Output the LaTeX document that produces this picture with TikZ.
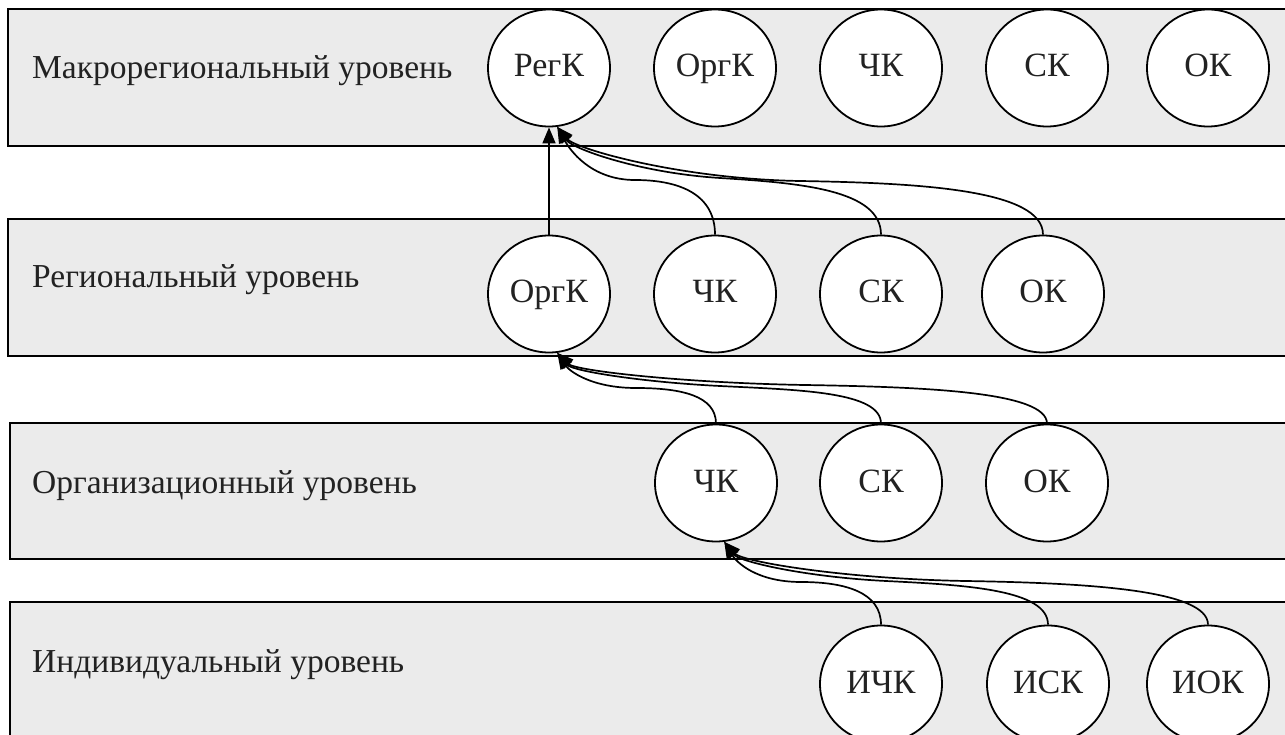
\documentclass[tikz,border=0pt]{standalone}
\usepackage{fontspec}
\setmainfont{Liberation Serif}
\usetikzlibrary{arrows.meta,shapes.geometric}
\definecolor{levelfill}{HTML}{EBEBEB}
\definecolor{ink}{HTML}{222222}
\begin{document}
\begin{tikzpicture}[x=1pt,y=-1pt,
  level/.style={draw=black,line width=2pt,fill=levelfill},
  lvltext/.style={anchor=base west,text=ink,font=\fontsize{33.5}{40}\selectfont,inner sep=0pt},
  comp/.style={ellipse,draw=black,line width=1.8pt,fill=white,minimum width=122pt,minimum height=117pt,inner sep=0pt,text=ink,font=\fontsize{34}{40}\selectfont,text height=22pt,text depth=4pt},
  link/.style={draw=black,line width=1.7pt,-{Triangle[length=16pt,width=13pt]}}]
\clip (0,0) rectangle (1285,735);
% level bands
\path[level] (8,9) rectangle (1300,146);
\path[level] (8,219) rectangle (1300,356);
\path[level] (10,423) rectangle (1300,559);
\path[level] (10,602) rectangle (1300,745);
\node[lvltext] (t1) at (32,79) {Макрорегиональный уровень};
\node[lvltext] (t2) at (32,288) {Региональный уровень};
\node[lvltext] (t3) at (32,493) {Организационный уровень};
\node[lvltext] (t4) at (32,672) {Индивидуальный уровень};
% via points of the connectors
\coordinate (m21) at (635,180);
\coordinate (m22) at (720,178);
\coordinate (m23) at (800,181);
\coordinate (m31) at (636,388);
\coordinate (m32) at (720,386);
\coordinate (m33) at (805,385);
\coordinate (m41) at (801,582);
\coordinate (m42) at (886,581);
\coordinate (m43) at (966,581);
% nodes
\node[comp] (regk) at (549,68) {РегК};
\node[comp] (orgk1) at (715,68) {ОргК};
\node[comp] (chk1) at (881,68) {ЧК};
\node[comp] (sk1) at (1047,68) {СК};
\node[comp] (ok1) at (1208,68) {ОК};
\node[comp] (orgk2) at (549,294) {ОргК};
\node[comp] (chk2) at (715,294) {ЧК};
\node[comp] (sk2) at (881,294) {СК};
\node[comp] (ok2) at (1043,294) {ОК};
\node[comp] (chk3) at (716,483) {ЧК};
\node[comp] (sk3) at (881,483) {СК};
\node[comp] (ok3) at (1047,483) {ОК};
\node[comp] (ichk) at (881,684) {ИЧК};
\node[comp] (isk) at (1048,684) {ИСК};
\node[comp] (iok) at (1208,684) {ИОК};
% edges level 2 -> 1
\draw[link] (orgk2.north) -- (regk.south);
\draw[link] (chk2.north) .. controls +(0,-40) and +(45,0) .. (m21) .. controls +(-45,0) and +(12,22) .. (regk.-82);
\draw[link] (sk2.north) .. controls +(0,-45) and +(80,5) .. (m22) .. controls +(-80,-5) and +(15,22) .. (regk.-82);
\draw[link] (ok2.north) .. controls +(0,-45) and +(120,2) .. (m23) .. controls +(-120,-2) and +(18,22) .. (regk.-82);
% edges level 3 -> 2
\draw[link] (chk3.north) .. controls +(0,-28) and +(45,0) .. (m31) .. controls +(-45,0) and +(12,18) .. (orgk2.-82);
\draw[link] (sk3.north) .. controls +(0,-32) and +(80,4) .. (m32) .. controls +(-80,-4) and +(15,18) .. (orgk2.-82);
\draw[link] (ok3.north) .. controls +(0,-32) and +(120,2) .. (m33) .. controls +(-120,-2) and +(18,18) .. (orgk2.-82);
% edges level 4 -> 3
\draw[link] (ichk.north) .. controls +(0,-32) and +(45,0) .. (m41) .. controls +(-45,0) and +(12,20) .. (chk3.-82);
\draw[link] (isk.north) .. controls +(0,-35) and +(80,4) .. (m42) .. controls +(-80,-4) and +(15,20) .. (chk3.-82);
\draw[link] (iok.north) .. controls +(0,-35) and +(120,2) .. (m43) .. controls +(-120,-2) and +(18,20) .. (chk3.-82);
\end{tikzpicture}
\end{document}
